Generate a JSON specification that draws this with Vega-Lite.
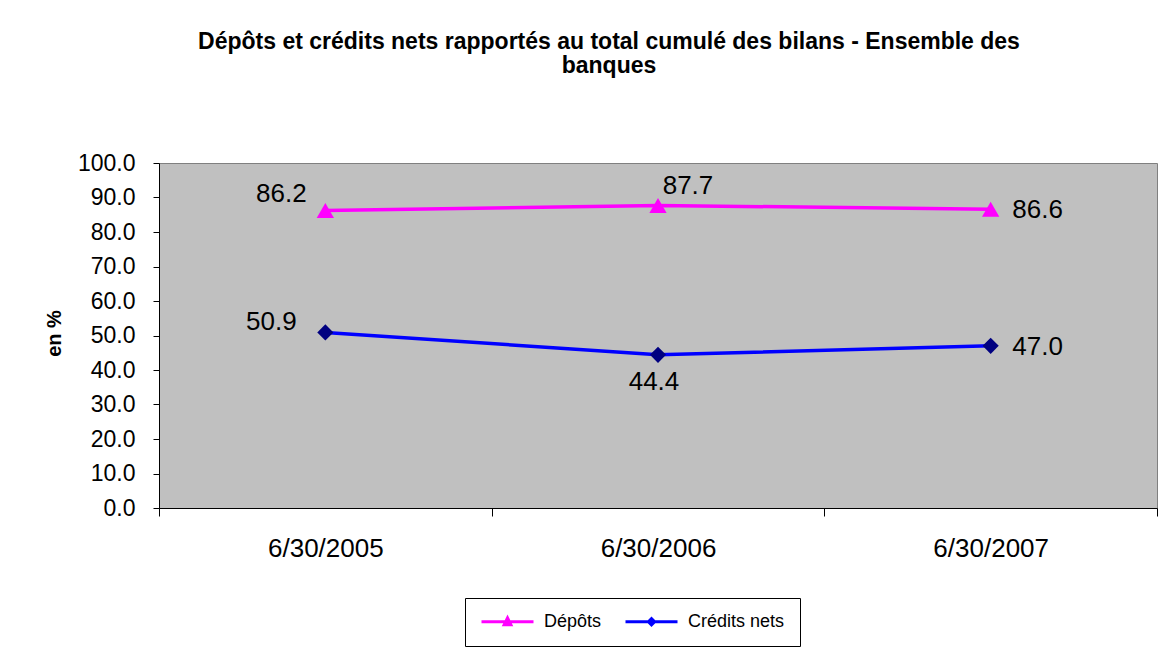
{
  "$schema": "https://vega.github.io/schema/vega-lite/v6.json",
  "width": 998,
  "height": 345,
  "autosize": {"type": "none"},
  "padding": {"left": 159, "top": 163, "right": 14, "bottom": 141},
  "background": "white",
  "config": {
    "font": "Liberation Sans",
    "view": {"fill": "#C0C0C0", "stroke": "#808080", "strokeWidth": 1}
  },
  "title": {
    "text": ["Dépôts et crédits nets rapportés au total cumulé des bilans - Ensemble des", "banques"],
    "font": "Liberation Sans",
    "fontSize": 23,
    "fontWeight": "bold",
    "color": "black",
    "lineHeight": 24,
    "anchor": "middle",
    "frame": "group",
    "dx": -49,
    "offset": 74
  },
  "data": {
    "values": [
      {"date": "6/30/2005", "serie": "Dépôts", "value": 86.2},
      {"date": "6/30/2006", "serie": "Dépôts", "value": 87.7},
      {"date": "6/30/2007", "serie": "Dépôts", "value": 86.6},
      {"date": "6/30/2005", "serie": "Crédits nets", "value": 50.9},
      {"date": "6/30/2006", "serie": "Crédits nets", "value": 44.4},
      {"date": "6/30/2007", "serie": "Crédits nets", "value": 47.0}
    ]
  },
  "encoding": {
    "x": {
      "field": "date",
      "type": "ordinal",
      "sort": ["6/30/2005", "6/30/2006", "6/30/2007"],
      "scale": {"type": "band", "paddingInner": 0, "paddingOuter": 0},
      "axis": {
        "title": null,
        "labelAngle": 0,
        "labelFontSize": 26,
        "labelColor": "black",
        "labelPadding": 19,
        "tickSize": 8,
        "tickColor": "black",
        "domainColor": "black",
        "tickBand": "extent",
        "grid": false
      }
    },
    "y": {
      "field": "value",
      "type": "quantitative",
      "scale": {"domain": [0, 100], "nice": false},
      "axis": {
        "title": "en %",
        "titleFontSize": 20,
        "titleFontWeight": "bold",
        "titleColor": "black",
        "titleAngle": -90,
        "titleBaseline": "middle",
        "titleX": -105,
        "titleY": 170,
        "values": [0, 10, 20, 30, 40, 50, 60, 70, 80, 90, 100],
        "format": ".1f",
        "labelFontSize": 23,
        "labelColor": "black",
        "labelPadding": 18,
        "tickSize": 6,
        "tickColor": "black",
        "domainColor": "black",
        "grid": false
      }
    }
  },
  "layer": [
    {
      "mark": {"type": "line", "strokeWidth": 3.5},
      "encoding": {
        "stroke": {
          "field": "serie",
          "type": "nominal",
          "scale": {"domain": ["Dépôts", "Crédits nets"], "range": ["#FF00FF", "#0000FF"]}
        }
      }
    },
    {
      "transform": [{"filter": "datum.serie === 'Dépôts'"}],
      "mark": {"type": "point", "filled": true, "opacity": 1, "size": 300, "shape": "triangle-up", "color": "#FF00FF"}
    },
    {
      "transform": [{"filter": "datum.serie === 'Crédits nets'"}],
      "mark": {"type": "point", "filled": true, "opacity": 1, "size": 260, "shape": "diamond", "color": "#000080"}
    },
    {
      "transform": [{"filter": "false"}],
      "mark": {"type": "point", "filled": true, "opacity": 1, "size": 2704, "strokeWidth": 3},
      "encoding": {
        "shape": {
          "field": "serie",
          "type": "nominal",
          "scale": {
            "domain": ["Dépôts", "Crédits nets"],
            "range": ["M-1,0H1M-0.13,0.12L0,-0.15L0.13,0.12Z", "M-1,0H1M-0.12,0L0,-0.12L0.12,0L0,0.12Z"]
          },
          "legend": {
            "title": null,
            "orient": "none",
            "legendX": 306,
            "legendY": 435,
            "direction": "horizontal",
            "strokeColor": "black",
            "fillColor": "white",
            "padding": 15,
            "clipHeight": 17,
            "labelFontSize": 18,
            "labelColor": "black",
            "labelOffset": 9,
            "columnPadding": 22,
            "symbolSize": 2704,
            "symbolStrokeWidth": 3,
            "symbolOpacity": 1
          }
        },
        "stroke": {
          "field": "serie",
          "type": "nominal",
          "legend": {
            "title": null,
            "orient": "none",
            "legendX": 306,
            "legendY": 435,
            "direction": "horizontal",
            "strokeColor": "black",
            "fillColor": "white",
            "padding": 15,
            "clipHeight": 17,
            "labelFontSize": 18,
            "labelColor": "black",
            "labelOffset": 9,
            "columnPadding": 22,
            "symbolSize": 2704,
            "symbolStrokeWidth": 3,
            "symbolOpacity": 1
          }
        },
        "fill": {
          "field": "serie",
          "type": "nominal",
          "scale": {"domain": ["Dépôts", "Crédits nets"], "range": ["#FF00FF", "#000080"]},
          "legend": {
            "title": null,
            "orient": "none",
            "legendX": 306,
            "legendY": 435,
            "direction": "horizontal",
            "strokeColor": "black",
            "fillColor": "white",
            "padding": 15,
            "clipHeight": 17,
            "labelFontSize": 18,
            "labelColor": "black",
            "labelOffset": 9,
            "columnPadding": 22,
            "symbolSize": 2704,
            "symbolStrokeWidth": 3,
            "symbolOpacity": 1
          }
        }
      }
    },
    {
      "transform": [{"filter": "datum.date === '6/30/2005' && datum.serie === 'Dépôts'"}],
      "mark": {"type": "text", "fontSize": 26, "color": "black", "align": "center", "baseline": "middle", "dx": -44, "dy": -17},
      "encoding": {"text": {"field": "value", "type": "quantitative", "format": ".1f"}}
    },
    {
      "transform": [{"filter": "datum.date === '6/30/2005' && datum.serie === 'Crédits nets'"}],
      "mark": {"type": "text", "fontSize": 26, "color": "black", "align": "center", "baseline": "middle", "dx": -54, "dy": -10},
      "encoding": {"text": {"field": "value", "type": "quantitative", "format": ".1f"}}
    },
    {
      "transform": [{"filter": "datum.date === '6/30/2006' && datum.serie === 'Dépôts'"}],
      "mark": {"type": "text", "fontSize": 26, "color": "black", "align": "center", "baseline": "middle", "dx": 30, "dy": -19},
      "encoding": {"text": {"field": "value", "type": "quantitative", "format": ".1f"}}
    },
    {
      "transform": [{"filter": "datum.date === '6/30/2006' && datum.serie === 'Crédits nets'"}],
      "mark": {"type": "text", "fontSize": 26, "color": "black", "align": "center", "baseline": "middle", "dx": -4, "dy": 27},
      "encoding": {"text": {"field": "value", "type": "quantitative", "format": ".1f"}}
    },
    {
      "transform": [{"filter": "datum.date === '6/30/2007'"}],
      "mark": {"type": "text", "fontSize": 26, "color": "black", "align": "center", "baseline": "middle", "dx": 47, "dy": 1},
      "encoding": {"text": {"field": "value", "type": "quantitative", "format": ".1f"}}
    }
  ]
}
